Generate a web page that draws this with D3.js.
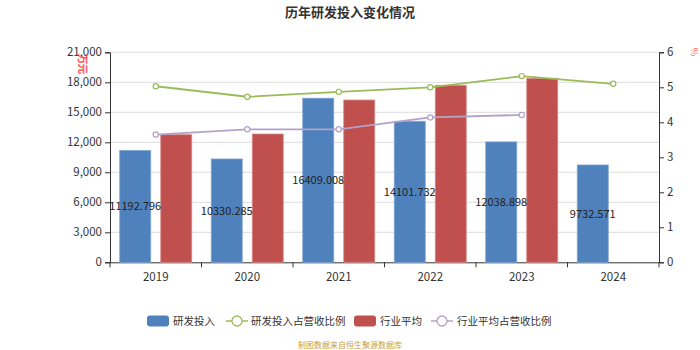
<!DOCTYPE html>
<html><head><meta charset="utf-8">
<script src="https://cdn.jsdelivr.net/npm/d3@7"></script>
<style>body{margin:0;background:#fff;font-family:"Microsoft YaHei","Noto Sans CJK SC",sans-serif;}</style>
</head><body><svg id="c" width="700" height="350"></svg>
<script>
const categories = ["2019","2020","2021","2022","2023","2024"];
const rdInvest = [11192.796, 10330.285, 16409.008, 14101.732, 12038.898, 9732.571];
const rdRatio = [5.03, 4.73, 4.87, 5.0, 5.32, 5.10];
const industryAvg = [12760, 12830, 16230, 17700, 18400, null];
const industryRatio = [3.65, 3.80, 3.80, 4.14, 4.21, null];
const leftTicks = [0,3000,6000,9000,12000,15000,18000,21000];
const rightTicks = [0,1,2,3,4,5,6];

const svg = d3.select("#c");
const font = '"Microsoft YaHei","Noto Sans CJK SC",sans-serif';
const L=110, R=659, T=52.3, B=262.3;
const x = d3.scaleBand().domain(categories).range([L,R]);
const yL = d3.scaleLinear().domain([0,21000]).range([B,T]);
const yR = d3.scaleLinear().domain([0,6]).range([B,T]);
const C = {blue:"#4f81bd", red:"#c0504d", green:"#9bbb59", purple:"#b3a2c7"};

// title
svg.append("text").attr("x",350).attr("y",17).attr("text-anchor","middle")
  .attr("font-size",13).attr("font-weight","bold").attr("fill","#333").attr("font-family",font)
  .text("历年研发投入变化情况");

// grid
svg.append("g").selectAll("line").data(leftTicks.slice(1)).join("line")
  .attr("x1",L).attr("x2",R).attr("y1",d=>yL(d)).attr("y2",d=>yL(d))
  .attr("stroke","#dcdcdc").attr("stroke-width",1);

// axes
const gl = svg.append("g").attr("transform",`translate(${L},0)`)
  .call(d3.axisLeft(yL).tickValues(leftTicks).tickFormat(d3.format(",")).tickSize(5).tickPadding(3));
const gr = svg.append("g").attr("transform",`translate(${R},0)`)
  .call(d3.axisRight(yR).tickValues(rightTicks).tickFormat(d3.format("d")).tickSize(5).tickPadding(3));
const gx = svg.append("g").attr("transform",`translate(0,${B})`)
  .call(d3.axisBottom(x).tickSize(0).tickPadding(11));
// x ticks at band boundaries
svg.append("g").selectAll("line").data(categories.concat(["end"])).join("line")
  .attr("x1",(d,i)=>L+i*x.step()).attr("x2",(d,i)=>L+i*x.step())
  .attr("y1",B).attr("y2",B+5).attr("stroke","#333");
[gl,gr,gx].forEach(g=>{
  g.selectAll("path").attr("stroke","#333");
  g.selectAll("line").attr("stroke","#333");
  g.selectAll("text").attr("font-size",11.5).attr("fill","#333").attr("font-family",font);
});
gx.select("path").attr("d",`M${L},0.5H${R}`);

// units
svg.append("text").attr("transform","translate(79,64) rotate(90)")
  .attr("text-anchor","middle").attr("font-size",10).attr("fill","none").attr("stroke","#ff4040")
  .attr("stroke-width",0.6).attr("font-family",font).text("万元");
svg.append("text").attr("transform","translate(691,52) rotate(90)")
  .attr("text-anchor","middle").attr("font-size",9).attr("fill","#ff6060").attr("font-family",font).text("%");

const bw = 31, off = 20.5;
const cx = d => x(d)+x.bandwidth()/2;
// bars
svg.append("g").selectAll("rect").data(categories).join("rect")
  .attr("x",d=>cx(d)-off-bw/2).attr("width",bw)
  .attr("y",(d,i)=>yL(rdInvest[i])).attr("height",(d,i)=>B-yL(rdInvest[i]))
  .attr("fill",C.blue).attr("stroke","#7fa3d3").attr("stroke-width",0.8);
svg.append("g").selectAll("rect").data(categories.filter((d,i)=>industryAvg[i]!=null)).join("rect")
  .attr("x",d=>cx(d)+off-bw/2).attr("width",bw)
  .attr("y",(d)=>yL(industryAvg[categories.indexOf(d)])).attr("height",d=>B-yL(industryAvg[categories.indexOf(d)]))
  .attr("fill",C.red).attr("stroke","#d88a88").attr("stroke-width",0.8);

// lines
function drawLine(vals,color){
  const pts = categories.map((d,i)=>[cx(d),vals[i]]).filter(p=>p[1]!=null);
  svg.append("path").datum(pts).attr("fill","none").attr("stroke",color).attr("stroke-width",1.8)
    .attr("d",d3.line().x(p=>p[0]).y(p=>yR(p[1])));
  svg.append("g").selectAll("circle").data(pts).join("circle")
    .attr("cx",p=>p[0]).attr("cy",p=>yR(p[1])).attr("r",2.6)
    .attr("fill","#fff").attr("stroke",color).attr("stroke-width",1.2);
}
drawLine(rdRatio,C.green);
drawLine(industryRatio,C.purple);

// labels
svg.append("g").selectAll("text").data(categories).join("text")
  .attr("x",d=>cx(d)-off).attr("y",(d,i)=>(yL(rdInvest[i])+B)/2+4)
  .attr("text-anchor","middle").attr("font-size",11).attr("fill","#222").attr("font-family",font)
  .text((d,i)=>rdInvest[i].toFixed(3));

// legend
const lg = svg.append("g").attr("font-family",font).attr("font-size",10.5).attr("fill","#333");
const ly = 321;
const items = [
  {type:"rect",color:C.blue,x:147,tx:173,label:"研发投入"},
  {type:"line",color:C.green,x:226,tx:251,label:"研发投入占营收比例"},
  {type:"rect",color:C.red,x:354,tx:380,label:"行业平均"},
  {type:"line",color:C.purple,x:431,tx:457,label:"行业平均占营收比例"}
];
items.forEach(it=>{
  if(it.type==="rect"){
    lg.append("rect").attr("x",it.x).attr("y",ly-5.5).attr("width",22).attr("height",11).attr("rx",3).attr("fill",it.color);
  } else {
    lg.append("line").attr("x1",it.x).attr("x2",it.x+22).attr("y1",ly).attr("y2",ly).attr("stroke",it.color).attr("stroke-width",1.5);
    lg.append("circle").attr("cx",it.x+11).attr("cy",ly).attr("r",5).attr("fill","#fff").attr("stroke",it.color).attr("stroke-width",1.3);
  }
  lg.append("text").attr("x",it.tx).attr("y",ly+4).attr("fill","#333").text(it.label);
});

svg.append("text").attr("x",350).attr("y",348).attr("text-anchor","middle")
  .attr("font-size",8).attr("fill","#c8a040").attr("font-family",font).text("制图数据来自恒生聚源数据库");
</script></body></html>
